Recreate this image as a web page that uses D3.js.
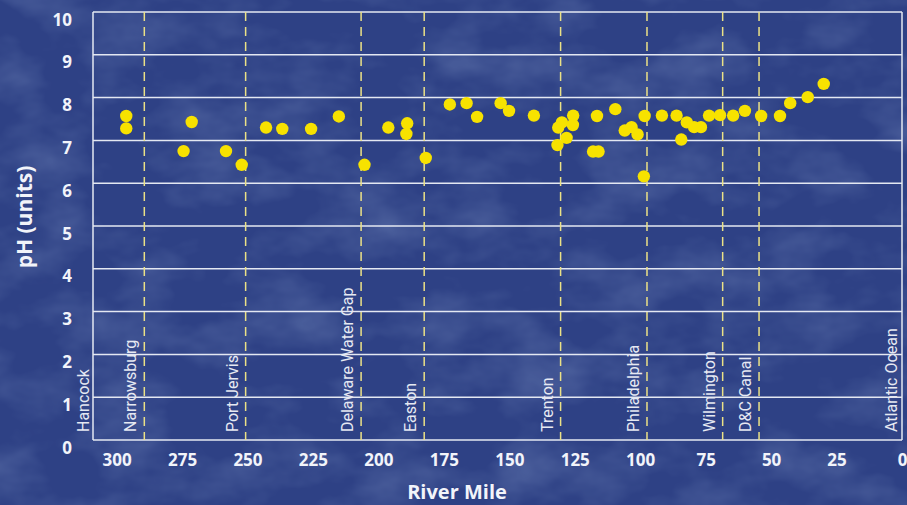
<!DOCTYPE html>
<html>
<head>
<meta charset="utf-8">
<script src="https://cdn.jsdelivr.net/npm/d3@7"></script>
<style>
  html, body { margin: 0; padding: 0; background: #2f4286; }
  svg { display: block; }
</style>
</head>
<body>
<div id="chart"></div>
<script>
// ---- data ----
const riverMiles = [296.3, 296.3, 274.4, 271.3, 258.2, 252.2, 242.9, 236.7, 225.7, 215.1,
  205.3, 196.2, 189.0, 189.3, 181.9, 172.7, 166.3, 162.3, 153.3, 150.1,
  140.6, 131.6, 131.3, 129.9, 128.1, 125.6, 125.7, 118.0, 115.9, 116.5,
  109.5, 105.9, 103.3, 101.0, 98.6, 98.3, 91.7, 86.1, 84.3, 82.2,
  79.4, 76.8, 73.7, 69.5, 64.5, 60.0, 53.8, 46.6, 42.7, 36.0, 29.9];
const phValues = [7.57, 7.28, 6.75, 7.43, 6.75, 6.43, 7.30, 7.27, 7.27, 7.56,
  6.43, 7.30, 7.40, 7.15, 6.59, 7.84, 7.87, 7.55, 7.87, 7.69,
  7.58, 6.89, 7.30, 7.42, 7.06, 7.58, 7.36, 6.74, 6.74, 7.57,
  7.73, 7.23, 7.31, 7.14, 6.16, 7.57, 7.58, 7.58, 7.02, 7.42,
  7.31, 7.31, 7.58, 7.59, 7.58, 7.69, 7.57, 7.57, 7.87, 8.01, 8.32];

const landmarkNames = ["Hancock", "Narrowsburg", "Port Jervis", "Delaware Water Gap", "Easton",
  "Trenton", "Philadelphia", "Wilmington", "D&C Canal", "Atlantic Ocean"];
const landmarkMiles = [307.5, 289.4, 250.7, 206.6, 182.5, 130.4, 97.4, 68.5, 54.6, -1];
const landmarkDashed = [false, true, true, true, true, true, true, true, true, false];

const xTickValues = [300, 275, 250, 225, 200, 175, 150, 125, 100, 75, 50, 25, 0];
const yTickValues = [0, 1, 2, 3, 4, 5, 6, 7, 8, 9, 10];
const xTitle = "River Mile";
const yTitle = "pH (units)";

// ---- layout ----
const W = 907, H = 505;
const svg = d3.select("#chart").append("svg").attr("width", W).attr("height", H);

// background with subtle mottled texture
const defs = svg.append("defs");
const f = defs.append("filter").attr("id", "mottle").attr("x", 0).attr("y", 0).attr("width", "100%").attr("height", "100%");
f.append("feTurbulence").attr("type", "fractalNoise").attr("baseFrequency", "0.012 0.02").attr("numOctaves", 4).attr("seed", 7).attr("result", "noise");
f.append("feColorMatrix").attr("in", "noise").attr("type", "matrix")
  .attr("values", "0 0 0 0 0.36  0 0 0 0 0.48  0 0 0 0 0.74  0 0 0 1.4 -0.58");
svg.append("rect").attr("width", W).attr("height", H).attr("fill", "#2e4185");
svg.append("rect").attr("width", W).attr("height", H).attr("filter", "url(#mottle)").attr("opacity", 0.35);

const x = d3.scaleLinear().domain([309, 0]).range([93, 902]);
const y = d3.scaleLinear().domain([0, 10]).range([440, 12]);

const gridColor = "#e4e8f2";

// horizontal gridlines
svg.append("g").selectAll("line").data(yTickValues).join("line")
  .attr("x1", x(309)).attr("x2", x(0))
  .attr("y1", d => y(d)).attr("y2", d => y(d))
  .attr("stroke", gridColor).attr("stroke-width", 1.5);

// frame verticals
svg.append("line").attr("x1", x(309)).attr("x2", x(309)).attr("y1", y(10)).attr("y2", y(0))
  .attr("stroke", gridColor).attr("stroke-width", 1.5);
svg.append("line").attr("x1", x(0)).attr("x2", x(0)).attr("y1", y(10)).attr("y2", y(0))
  .attr("stroke", gridColor).attr("stroke-width", 1.5);

// dashed landmark lines
const landmarks = landmarkNames.map((n, i) => ({ name: n, mile: landmarkMiles[i], dashed: landmarkDashed[i] }));
svg.append("g").selectAll("line").data(landmarks.filter(d => d.dashed)).join("line")
  .attr("x1", d => x(d.mile)).attr("x2", d => x(d.mile))
  .attr("y1", y(10)).attr("y2", y(0))
  .attr("stroke", "#ebe186").attr("stroke-width", 1.5)
  .attr("stroke-dasharray", "9,6");

// landmark labels
svg.append("g").selectAll("text").data(landmarks).join("text")
  .attr("transform", d => `translate(${x(d.mile) - 8},${y(0) - 8}) rotate(-90)`)
  .attr("text-anchor", "start")
  .attr("font-family", "Roboto, sans-serif")
  .attr("font-size", 16)
  .attr("fill", "#e6e9f2")
  .text(d => d.name);

// points
svg.append("g").selectAll("circle").data(riverMiles.map((m, i) => ({ m, v: phValues[i] }))).join("circle")
  .attr("cx", d => x(d.m)).attr("cy", d => y(d.v)).attr("r", 6.2)
  .attr("fill", "#f7e200");

// axes
const tickFont = "'Open Sans', sans-serif";
const xAxis = svg.append("g").attr("transform", `translate(0,${y(0)})`)
  .call(d3.axisBottom(x).tickValues(xTickValues).tickSize(0).tickPadding(0).tickFormat(d3.format("d")));
xAxis.select(".domain").remove();
xAxis.selectAll("text").attr("y", 0).attr("dy", "26px")
  .attr("font-family", tickFont).attr("font-weight", "bold").attr("font-size", 17).attr("fill", "#f2f4fa");

const yAxis = svg.append("g").attr("transform", `translate(72,0)`)
  .call(d3.axisLeft(y).tickValues(yTickValues).tickSize(0).tickPadding(0).tickFormat(d3.format("d")));
yAxis.select(".domain").remove();
yAxis.selectAll("text").attr("x", 0).attr("dy", "13px")
  .attr("font-family", tickFont).attr("font-weight", "bold").attr("font-size", 17).attr("fill", "#f2f4fa");

// titles
svg.append("text").attr("x", 457).attr("y", 499).attr("text-anchor", "middle")
  .attr("font-family", tickFont).attr("font-weight", "bold").attr("font-size", 20)
  .attr("fill", "#f2f4fa").text(xTitle);
svg.append("text").attr("transform", "translate(32,217) rotate(-90)").attr("text-anchor", "middle")
  .attr("font-family", tickFont).attr("font-weight", "bold").attr("font-size", 21)
  .attr("fill", "#f2f4fa").text(yTitle);
</script>
</body>
</html>
